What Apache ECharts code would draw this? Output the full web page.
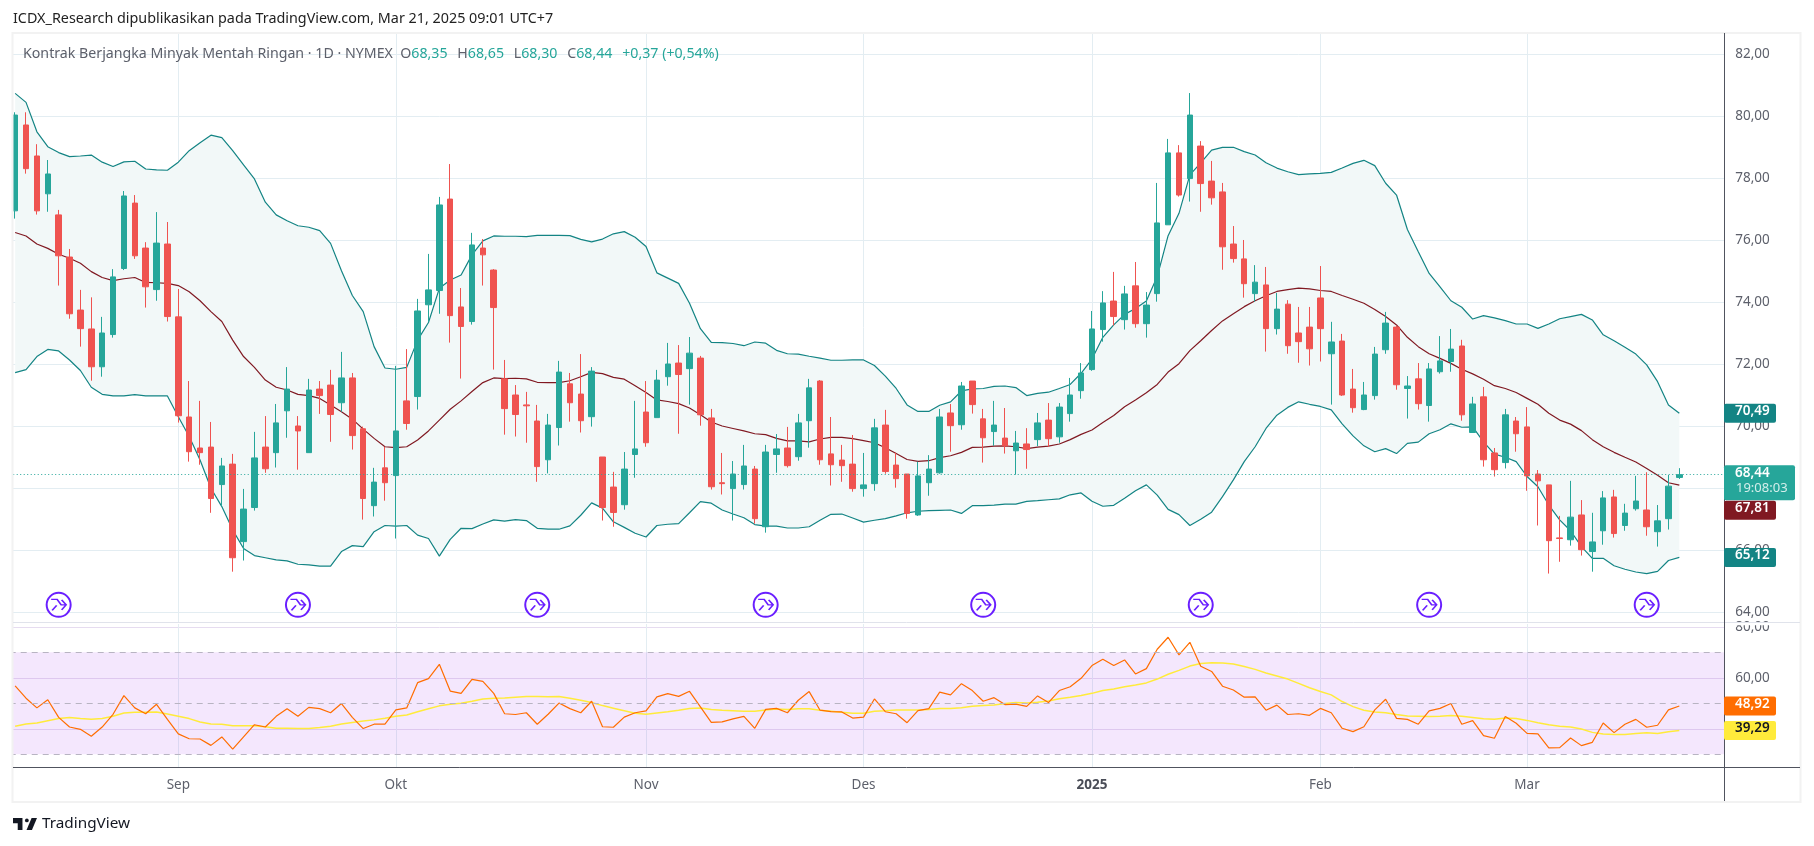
<!DOCTYPE html>
<html><head><meta charset="utf-8"><style>html,body{margin:0;padding:0;background:#fff}#c{width:1814px;height:846px}</style>
<script src="https://cdn.jsdelivr.net/npm/echarts@6/dist/echarts.min.js"></script></head><body><div id="c"></div>
<script>
const monthTickIndex=[15,35,58,78,99,120,139];
const monthTickLabels=['Sep','Okt','Nov','Des','2025','Feb','Mar'];
const slotCount=158;
const opens=[76.95,79.72,78.72,77.50,76.82,75.46,73.75,73.14,71.92,72.96,75.09,77.20,75.75,74.41,75.88,73.53,70.30,69.30,69.33,68.12,68.78,66.28,67.38,69.33,69.15,70.50,70.01,69.15,71.20,71.33,70.76,71.56,69.92,67.44,68.66,68.41,70.82,70.96,73.92,74.38,77.33,73.85,73.38,75.75,75.04,71.53,71.01,70.69,70.17,68.92,69.96,71.37,71.04,70.31,69.01,68.04,67.47,69.09,70.46,70.28,71.60,72.04,71.86,72.20,70.27,68.18,67.99,68.12,68.62,66.76,69.09,69.30,69.02,70.18,71.46,69.11,68.91,68.78,67.99,68.15,70.04,68.75,68.46,67.14,68.18,68.50,70.43,70.05,71.46,70.24,69.83,69.62,69.21,69.43,69.57,70.20,69.66,70.41,71.15,71.83,73.12,74.04,73.44,74.53,73.31,74.28,76.50,78.82,77.99,79.04,77.91,77.56,75.88,75.40,74.28,74.56,73.15,73.94,73.01,73.20,74.14,72.34,72.75,71.20,70.54,70.99,72.47,73.20,71.22,71.53,70.67,71.76,72.09,72.59,69.80,70.95,69.14,68.83,70.17,69.98,68.46,68.11,66.40,66.34,67.14,65.96,66.63,67.72,66.80,67.34,67.30,66.60,67.02,68.35];
const closes=[80.04,78.31,76.95,78.14,75.50,73.63,73.15,71.92,73.01,74.82,77.43,75.50,74.50,75.91,73.54,70.34,69.18,69.15,67.67,68.72,65.76,67.33,68.98,68.63,70.11,71.20,69.85,71.17,70.99,70.38,71.56,69.70,67.67,68.20,68.18,69.85,70.09,73.72,74.40,77.14,73.57,73.22,75.85,75.53,73.83,70.57,70.38,70.66,68.70,70.04,71.75,70.76,70.18,71.78,67.38,67.22,68.62,69.27,69.47,71.49,72.01,71.67,72.36,70.37,68.05,68.15,68.46,68.72,67.02,69.17,69.27,68.73,70.11,71.24,68.92,68.76,68.73,67.99,68.11,69.95,68.54,68.31,67.19,68.40,68.62,70.30,70.02,71.30,70.70,69.63,70.04,69.37,69.46,69.25,70.11,69.60,70.62,71.01,71.72,73.14,73.98,73.54,74.27,73.31,73.91,76.56,78.82,77.46,80.04,77.83,77.37,75.79,75.41,74.60,74.65,73.15,73.78,72.60,72.73,72.50,73.15,72.72,71.01,70.60,71.01,72.33,73.33,71.34,71.30,70.73,71.85,72.11,72.49,70.37,70.72,68.92,68.60,70.37,69.76,68.40,68.24,66.31,66.38,67.07,66.02,66.27,67.69,66.54,67.20,67.59,66.76,66.95,68.07,68.44];
const lows=[76.70,78.15,76.83,76.92,74.54,73.47,72.57,71.47,71.60,72.86,75.04,75.40,73.83,74.05,73.38,70.12,68.86,68.76,67.21,67.41,65.31,65.67,67.28,68.50,68.67,69.63,68.60,69.15,70.40,69.50,70.47,69.25,66.99,67.09,67.60,66.38,69.89,70.54,73.38,73.63,72.70,71.54,73.28,74.54,71.83,69.73,69.67,69.47,68.21,68.48,69.38,70.15,69.80,69.99,66.96,66.76,67.31,68.34,69.34,70.28,71.31,69.76,70.70,70.02,67.96,67.80,66.96,67.96,66.86,66.57,68.50,68.67,68.89,69.31,68.76,68.09,68.21,67.89,67.73,67.92,68.47,68.02,67.02,67.11,67.76,68.47,69.18,69.89,70.41,68.83,69.37,69.12,68.44,68.63,69.36,69.34,69.47,70.15,70.89,71.79,72.73,73.25,73.12,73.18,72.86,74.02,76.50,77.41,77.25,76.92,77.15,75.05,75.28,74.15,74.02,72.41,72.96,72.34,72.05,71.96,72.09,70.70,70.98,70.44,70.52,70.86,72.34,71.18,70.25,70.54,70.15,71.70,71.76,70.18,69.80,68.70,68.38,68.64,69.18,67.92,66.80,65.25,65.63,66.15,65.83,65.31,66.18,66.41,66.63,67.28,66.47,66.12,66.67,68.30];
const highs=[80.13,80.13,79.10,78.59,76.98,75.72,74.40,74.16,73.53,75.07,77.59,77.46,75.94,76.91,76.59,74.43,71.46,70.82,70.14,68.98,69.11,67.98,69.82,70.33,70.72,71.91,70.33,71.53,71.46,71.82,72.40,71.72,69.99,68.66,69.34,71.95,72.49,74.11,75.56,77.40,78.46,74.46,76.24,76.04,75.07,72.14,71.33,71.11,70.69,70.40,72.11,71.72,72.33,71.91,69.01,68.53,69.17,70.82,71.46,71.82,72.69,72.62,72.88,72.27,70.56,69.14,68.88,69.40,68.72,69.40,69.75,69.98,70.40,71.53,71.49,70.30,69.40,69.72,69.14,70.24,70.53,69.15,68.46,68.86,69.07,70.56,70.72,71.43,71.46,70.56,70.82,70.59,69.85,69.94,70.43,70.75,70.75,71.56,72.04,73.72,74.36,74.98,74.53,75.30,74.33,77.85,79.27,79.07,80.75,79.20,78.56,77.85,76.46,76.01,75.20,75.14,74.30,74.07,73.85,73.85,75.17,73.37,72.98,71.85,71.43,72.56,73.69,73.24,71.62,72.04,72.04,72.91,73.14,72.79,70.95,71.27,69.30,70.56,70.30,70.62,68.59,68.11,67.11,68.24,67.62,67.21,67.91,67.95,67.50,68.40,68.52,67.46,68.43,68.65];
const bbUpper=[80.74,80.45,79.50,79.02,78.83,78.70,78.72,78.75,78.52,78.38,78.53,78.55,78.30,78.27,78.26,78.52,78.89,79.15,79.39,79.31,78.89,78.43,77.98,77.23,76.82,76.63,76.47,76.42,76.31,75.90,75.02,74.22,73.70,72.57,71.88,71.84,71.90,72.78,73.35,74.45,74.72,74.88,75.53,75.98,76.14,76.13,76.13,76.12,76.16,76.16,76.16,76.15,76.03,75.95,76.04,76.21,76.28,76.10,75.80,74.95,74.78,74.61,73.97,73.15,72.71,72.70,72.67,72.60,72.72,72.68,72.45,72.34,72.33,72.26,72.20,72.13,72.13,72.14,72.14,71.96,71.62,71.22,70.69,70.48,70.48,70.68,70.79,71.14,71.21,71.22,71.29,71.30,71.25,70.99,71.06,71.10,71.22,71.35,71.71,72.17,72.87,73.27,73.61,73.80,74.04,74.83,76.15,76.87,78.11,78.50,78.91,79.00,79.00,78.86,78.75,78.50,78.33,78.21,78.12,78.14,78.16,78.19,78.33,78.48,78.58,78.41,77.84,77.46,76.35,75.63,74.93,74.50,74.05,73.84,73.46,73.57,73.50,73.41,73.30,73.30,73.16,73.30,73.47,73.54,73.61,73.43,72.95,72.76,72.55,72.33,71.98,71.44,70.69,70.42];
const bbBasis=[76.25,76.14,75.88,75.74,75.55,75.42,75.26,74.99,74.80,74.70,74.76,74.80,74.64,74.63,74.61,74.54,74.34,74.05,73.70,73.38,72.78,72.25,71.90,71.49,71.26,71.17,71.03,70.99,70.90,70.69,70.47,70.23,69.91,69.61,69.34,69.31,69.34,69.56,69.85,70.20,70.55,70.82,71.12,71.41,71.56,71.54,71.55,71.53,71.42,71.41,71.41,71.47,71.60,71.74,71.70,71.58,71.52,71.31,71.09,70.85,70.80,70.73,70.59,70.37,70.14,70.01,69.93,69.85,69.76,69.73,69.61,69.53,69.53,69.50,69.59,69.64,69.64,69.60,69.54,69.47,69.31,69.12,68.93,68.87,68.89,68.99,69.05,69.16,69.32,69.33,69.36,69.37,69.34,69.28,69.33,69.36,69.43,69.57,69.74,69.88,70.12,70.35,70.63,70.85,71.08,71.35,71.75,72.02,72.44,72.76,73.09,73.40,73.63,73.86,74.05,74.21,74.35,74.41,74.46,74.43,74.38,74.35,74.22,74.10,73.97,73.77,73.54,73.27,72.87,72.57,72.34,72.19,72.03,71.84,71.69,71.52,71.31,71.22,71.09,70.90,70.71,70.42,70.20,70.07,69.86,69.57,69.34,69.16,69.00,68.85,68.64,68.42,68.18,68.10];
const bbLower=[71.73,71.83,72.25,72.48,72.43,72.14,71.80,71.26,71.03,70.98,70.98,71.02,70.98,70.98,70.98,70.31,69.67,68.91,68.00,67.41,66.66,66.06,65.83,65.76,65.69,65.66,65.55,65.53,65.49,65.49,65.96,66.15,66.12,66.60,66.80,66.78,66.80,66.49,66.38,65.81,66.35,66.71,66.70,66.85,66.98,66.94,66.99,66.96,66.71,66.68,66.68,66.79,67.13,67.53,67.36,66.92,66.74,66.55,66.43,66.80,66.84,66.86,67.21,67.57,67.52,67.30,67.17,67.05,66.83,66.78,66.78,66.72,66.72,66.76,66.97,67.16,67.17,67.04,66.91,66.97,67.02,67.11,67.21,67.26,67.28,67.29,67.30,67.19,67.44,67.44,67.46,67.49,67.49,67.58,67.60,67.63,67.66,67.79,67.85,67.58,67.42,67.45,67.68,67.92,68.11,67.78,67.32,67.15,66.80,67.00,67.23,67.73,68.27,68.86,69.34,69.93,70.36,70.61,70.79,70.71,70.64,70.53,70.08,69.69,69.37,69.18,69.28,69.12,69.45,69.49,69.76,69.89,70.08,69.97,69.98,69.50,69.10,69.00,68.86,68.38,68.05,67.46,66.98,66.63,66.12,65.74,65.74,65.50,65.39,65.30,65.25,65.32,65.67,65.77];
const rsi=[56.8,52.0,48.2,51.4,44.5,40.7,39.8,37.1,40.7,45.7,53.0,48.2,45.9,49.6,43.7,38.0,36.1,36.0,33.5,36.8,32.0,36.8,41.6,40.7,44.9,47.9,44.9,48.4,47.9,46.3,49.9,44.5,40.1,41.8,41.8,47.4,48.2,58.1,59.7,65.3,54.8,53.9,59.4,58.6,53.9,45.9,45.6,46.3,41.8,45.7,50.1,47.9,46.3,50.8,40.8,40.6,44.6,46.3,47.0,52.5,53.8,52.7,54.7,48.6,42.5,42.7,43.9,44.9,40.2,47.6,48.0,46.3,51.2,54.6,47.3,46.7,46.6,44.2,44.6,51.7,46.7,45.9,42.4,47.1,47.9,54.4,53.3,57.7,55.0,50.8,52.2,49.5,49.7,48.8,52.9,50.3,55.0,56.5,59.8,64.8,67.3,64.8,67.0,61.5,63.6,71.2,75.9,69.0,73.9,64.5,62.5,56.7,55.2,52.4,52.5,47.3,49.3,45.6,45.9,45.3,48.0,46.3,40.2,38.9,40.8,47.4,51.6,44.1,43.7,41.8,47.0,48.0,49.9,41.8,43.2,37.3,36.3,44.8,42.2,38.2,38.0,32.5,32.6,36.4,33.4,34.7,42.3,38.5,41.8,43.7,40.6,41.4,47.4,48.92];
const rsiMa=[41.0,41.9,42.3,43.2,44.0,44.4,44.0,43.7,44.0,44.9,46.2,46.5,46.5,46.6,45.8,44.9,44.0,42.7,41.9,41.8,41.2,41.2,41.2,40.8,40.2,40.2,40.1,40.1,40.5,41.0,41.9,42.5,43.1,43.5,44.1,44.9,45.4,46.7,47.9,49.0,49.6,50.0,50.8,51.7,52.0,52.1,52.4,52.7,52.7,52.6,52.7,52.0,51.2,50.3,49.1,48.1,47.1,46.1,45.7,46.2,46.7,47.3,48.0,48.2,47.6,47.3,47.1,46.9,46.9,47.4,47.8,47.6,47.9,47.9,47.3,46.9,46.5,46.1,46.1,46.9,47.1,47.4,47.4,47.4,47.6,48.0,48.0,48.3,48.8,49.1,49.3,49.9,50.3,50.1,50.4,50.9,51.8,52.4,53.1,53.9,55.0,55.6,56.5,57.2,58.0,59.5,61.4,62.9,64.6,65.6,65.9,65.8,65.4,64.4,63.3,61.9,60.7,59.5,57.8,56.1,54.6,53.3,50.7,48.7,47.3,46.6,46.3,45.6,45.0,44.9,44.8,44.9,45.2,44.9,44.4,43.9,43.7,44.2,44.0,43.3,42.4,41.6,41.0,40.7,39.9,38.6,38.0,37.8,37.8,38.2,38.5,38.2,38.8,39.29];
const eventIndex=[4,26,48,69,89,109,130,150];
const eventLevel=[64.24,64.24,64.24,64.24,64.24,64.24,64.24,64.24];
const priceTicks=[64,66,68,70,72,74,76,78,80,82];
const rsiTicks=[40,60,80];
const rsiBandLines=[30,50,70];
const lastPrice=68.44;

const FONT='"Noto Sans",sans-serif';
const commaFmt=v=>Number(v).toFixed(2).replace('.',',');
const categories=[];
for(let i=0;i<slotCount;i++){const k=monthTickIndex.indexOf(i);categories.push(k>=0?monthTickLabels[k]:'d'+i);}
const isTick=(i,v)=>!String(v).startsWith('d');
const candle=opens.map((o,i)=>[o,closes[i],lows[i],highs[i]]);
const bandWidth=bbUpper.map((u,i)=>+(u-bbLower[i]).toFixed(2));
const events=eventIndex.map((x,i)=>[x,eventLevel[i]]);
const UP='#26a69a',DOWN='#ef5350',GRIDC='#e3edf2',BB='#138484',BASIS='#801922';
const SPAN=10.877;
const gridLeft=9.71,gridW=slotCount*SPAN;

const chart=echarts.init(document.getElementById('c'),null,{renderer:'canvas',width:1814,height:846});
const xBase={type:'category',data:categories,boundaryGap:true,
  axisLine:{show:false},axisTick:{show:false,alignWithLabel:true,interval:isTick},
  splitLine:{show:true,alignWithLabel:true,interval:isTick,lineStyle:{color:GRIDC,width:1}}};
chart.setOption({
  animation:false,backgroundColor:'#fff',
  textStyle:{fontFamily:FONT},
  grid:[{left:gridLeft,width:gridW,top:33,height:589},{left:gridLeft,width:gridW,top:624,height:143}],
  xAxis:[Object.assign({gridIndex:0,axisLabel:{show:false}},xBase),
    Object.assign({gridIndex:1,axisLabel:{show:true,interval:isTick,margin:11,fontFamily:FONT,fontSize:13.5,color:'#5d606b',
      formatter:v=>v==='2025'?'{b|2025}':v,rich:{b:{fontWeight:'bold',fontSize:13.5,color:'#4a4d57',fontFamily:FONT}}}},xBase)],
  yAxis:[
    {gridIndex:0,type:'value',position:'right',min:63.687,max:82.687,
     axisLine:{show:false},axisTick:{show:false,customValues:priceTicks},
     axisLabel:{customValues:priceTicks,formatter:commaFmt,margin:7,fontFamily:FONT,fontSize:13.5,color:'#5d606b',showMinLabel:true,showMaxLabel:true},
     splitLine:{show:true,lineStyle:{color:GRIDC,width:1}}},
    {gridIndex:1,type:'value',position:'right',min:25.02,max:81.1,
     axisLine:{show:false},axisTick:{show:false,customValues:rsiTicks},
     axisLabel:{customValues:rsiTicks,formatter:commaFmt,margin:7,fontFamily:FONT,fontSize:13.5,color:'#5d606b'},
     splitLine:{show:true,lineStyle:{color:'#e6dcf0',width:1}}}],
  series:[
    {name:'bandBase',type:'line',xAxisIndex:0,yAxisIndex:0,data:bbLower,stack:'bb',symbol:'none',lineStyle:{width:0,opacity:0},silent:true,z:1},
    {name:'bandFill',type:'line',xAxisIndex:0,yAxisIndex:0,data:bandWidth,stack:'bb',symbol:'none',lineStyle:{width:0,opacity:0},areaStyle:{color:'#f2f8f8',opacity:1},silent:true,z:1},
    {name:'upper',type:'line',xAxisIndex:0,yAxisIndex:0,data:bbUpper,symbol:'none',lineStyle:{color:BB,width:1.2},z:2},
    {name:'lower',type:'line',xAxisIndex:0,yAxisIndex:0,data:bbLower,symbol:'none',lineStyle:{color:BB,width:1.2},z:2},
    {name:'basis',type:'line',xAxisIndex:0,yAxisIndex:0,data:bbBasis,symbol:'none',lineStyle:{color:BASIS,width:1.2},z:2},
    {name:'price',type:'candlestick',xAxisIndex:0,yAxisIndex:0,data:candle,barWidth:6,z:3,
      itemStyle:{color:UP,color0:DOWN,borderColor:UP,borderColor0:DOWN,borderWidth:1},
      markLine:{silent:true,symbol:'none',label:{show:false},lineStyle:{color:UP,type:[1,2.5],width:1},data:[{yAxis:lastPrice}]}},
    {name:'eventRing',type:'scatter',xAxisIndex:0,yAxisIndex:0,data:events,symbol:'circle',symbolSize:24,z:4,
      itemStyle:{color:'#fff',borderColor:'#6a1fff',borderWidth:2,opacity:1}},
    {name:'eventArrow',type:'scatter',xAxisIndex:0,yAxisIndex:0,data:events,symbolSize:[15,11],z:5,
      symbol:'path://M0 0H6L10 5H15M10.5 0.5L15 5L10.5 9.5M1 10L5.5 5.5',
      itemStyle:{color:'rgba(0,0,0,0)',borderColor:'#6a1fff',borderWidth:1.5,opacity:1}},
    {name:'rsi',type:'line',xAxisIndex:1,yAxisIndex:1,data:rsi,symbol:'none',lineStyle:{color:'#ff6d00',width:1.2},z:4,
      markArea:{silent:true,itemStyle:{color:'rgba(163,55,238,0.12)'},data:[[{yAxis:30},{yAxis:70}]]},
      markLine:{silent:true,symbol:'none',label:{show:false},lineStyle:{color:'#b8b4c2',type:[6,5],width:1},data:rsiBandLines.map(v=>({yAxis:v}))}},
    {name:'rsiMa',type:'line',xAxisIndex:1,yAxisIndex:1,data:rsiMa,symbol:'none',lineStyle:{color:'#ffeb3b',width:1.5},z:3}
  ]
});

function tag(y,h,w,bg,text,fg,sub){
  const items=[{type:'rect',z:120,shape:{x:1724,y:y-h/2,width:w,height:h,r:2},style:{fill:bg}}];
  items.push({type:'text',z:121,x:1735,y:sub?y-h/2+1:y-9,style:{text:text,fill:fg,font:'600 13.5px '+FONT}});
  if(sub)items.push({type:'text',z:121,x:1736,y:y-h/2+17,style:{text:sub,fill:'#d4eeeb',font:'13px '+FONT}});
  return items;
}
const py=v=>chart.convertToPixel({yAxisIndex:0},v);
const ry=v=>chart.convertToPixel({yAxisIndex:1},v);
const logoX=13,logoY=818,logoKx=24/35.5,logoKy=12/14;
const lp=pts=>pts.map(p=>[logoX+p[0]*logoKx,logoY+(p[1]-6)*logoKy]);
const gap='\u0020\u0020\u2009';
const bits=[
  {type:'rect',z:100,shape:{x:0,y:0,width:12,height:846},style:{fill:'#fff'}},
  {type:'rect',z:100,shape:{x:1724.5,y:30,width:5,height:770},style:{fill:'#fff'}},
  {type:'rect',z:101,shape:{x:1726,y:622.5,width:74,height:2.8},style:{fill:'#fff'}},
  {type:'rect',z:110,shape:{x:12.5,y:33,width:1788,height:769},style:{fill:'none',stroke:'#f2f2f2',lineWidth:2}},
  {type:'line',z:111,shape:{x1:13,y1:622.5,x2:1800,y2:622.5},style:{stroke:'#e0e3eb',lineWidth:1}},
  {type:'line',z:111,shape:{x1:13,y1:767.5,x2:1800,y2:767.5},style:{stroke:'#50535e',lineWidth:1}},
  {type:'line',z:111,shape:{x1:1724.5,y1:33,x2:1724.5,y2:801},style:{stroke:'#50535e',lineWidth:1}},
  {type:'text',z:120,x:13,y:12,style:{text:'ICDX_Research dipublikasikan pada TradingView.com, Mar 21, 2025 09:01 UTC+7',fill:'#222',font:'14.35px '+FONT}},
  {type:'text',z:120,x:23,y:47,style:{
    text:'{g|Kontrak Berjangka Minyak Mentah Ringan · 1D · NYMEX}  {g|O}{t|68,35}'+gap+'{g|H}{t|68,65}'+gap+'{g|L}{t|68,30}'+gap+'{g|C}{t|68,44}'+gap+'{t|+0,37 (+0,54%)}',
    font:'14.2px '+FONT,rich:{g:{fill:'#5d606b',font:'14.2px '+FONT},t:{fill:'#26a69a',font:'14.2px '+FONT}}}},
  {type:'polygon',z:120,shape:{points:lp([[14,6],[0,6],[0,12],[7,12],[7,20],[14,20]])},style:{fill:'#131722'}},
  {type:'polygon',z:120,shape:{points:lp([[28,20],[20,20],[27.5,6],[35.5,6]])},style:{fill:'#131722'}},
  {type:'circle',z:120,shape:{cx:logoX+20.5*logoKx,cy:logoY+2.8*logoKy,r:2.8*logoKx},style:{fill:'#131722'}},
  {type:'text',z:120,x:42,y:816,style:{text:'TradingView',fill:'#131722',font:'15.3px '+FONT}}
];
const tags=[].concat(
  tag(py(bbUpper[153]),19,52,BB,'70,49','#fff'),
  tag(py(lastPrice)+8,35,71,UP,'68,44','#fff','19:08:03'),
  tag(py(bbBasis[153])+25,19,52,BASIS,'67,81','#fff'),
  tag(py(bbLower[153]),19,52,BB,'65,12','#fff'),
  tag(ry(rsi[153]),19,52,'#ff6d00','48,92','#fff'),
  tag(ry(rsiMa[153]),19,52,'#ffeb3b','39,29','#131722')
);
chart.setOption({graphic:bits.concat(tags)});
</script></body></html>
